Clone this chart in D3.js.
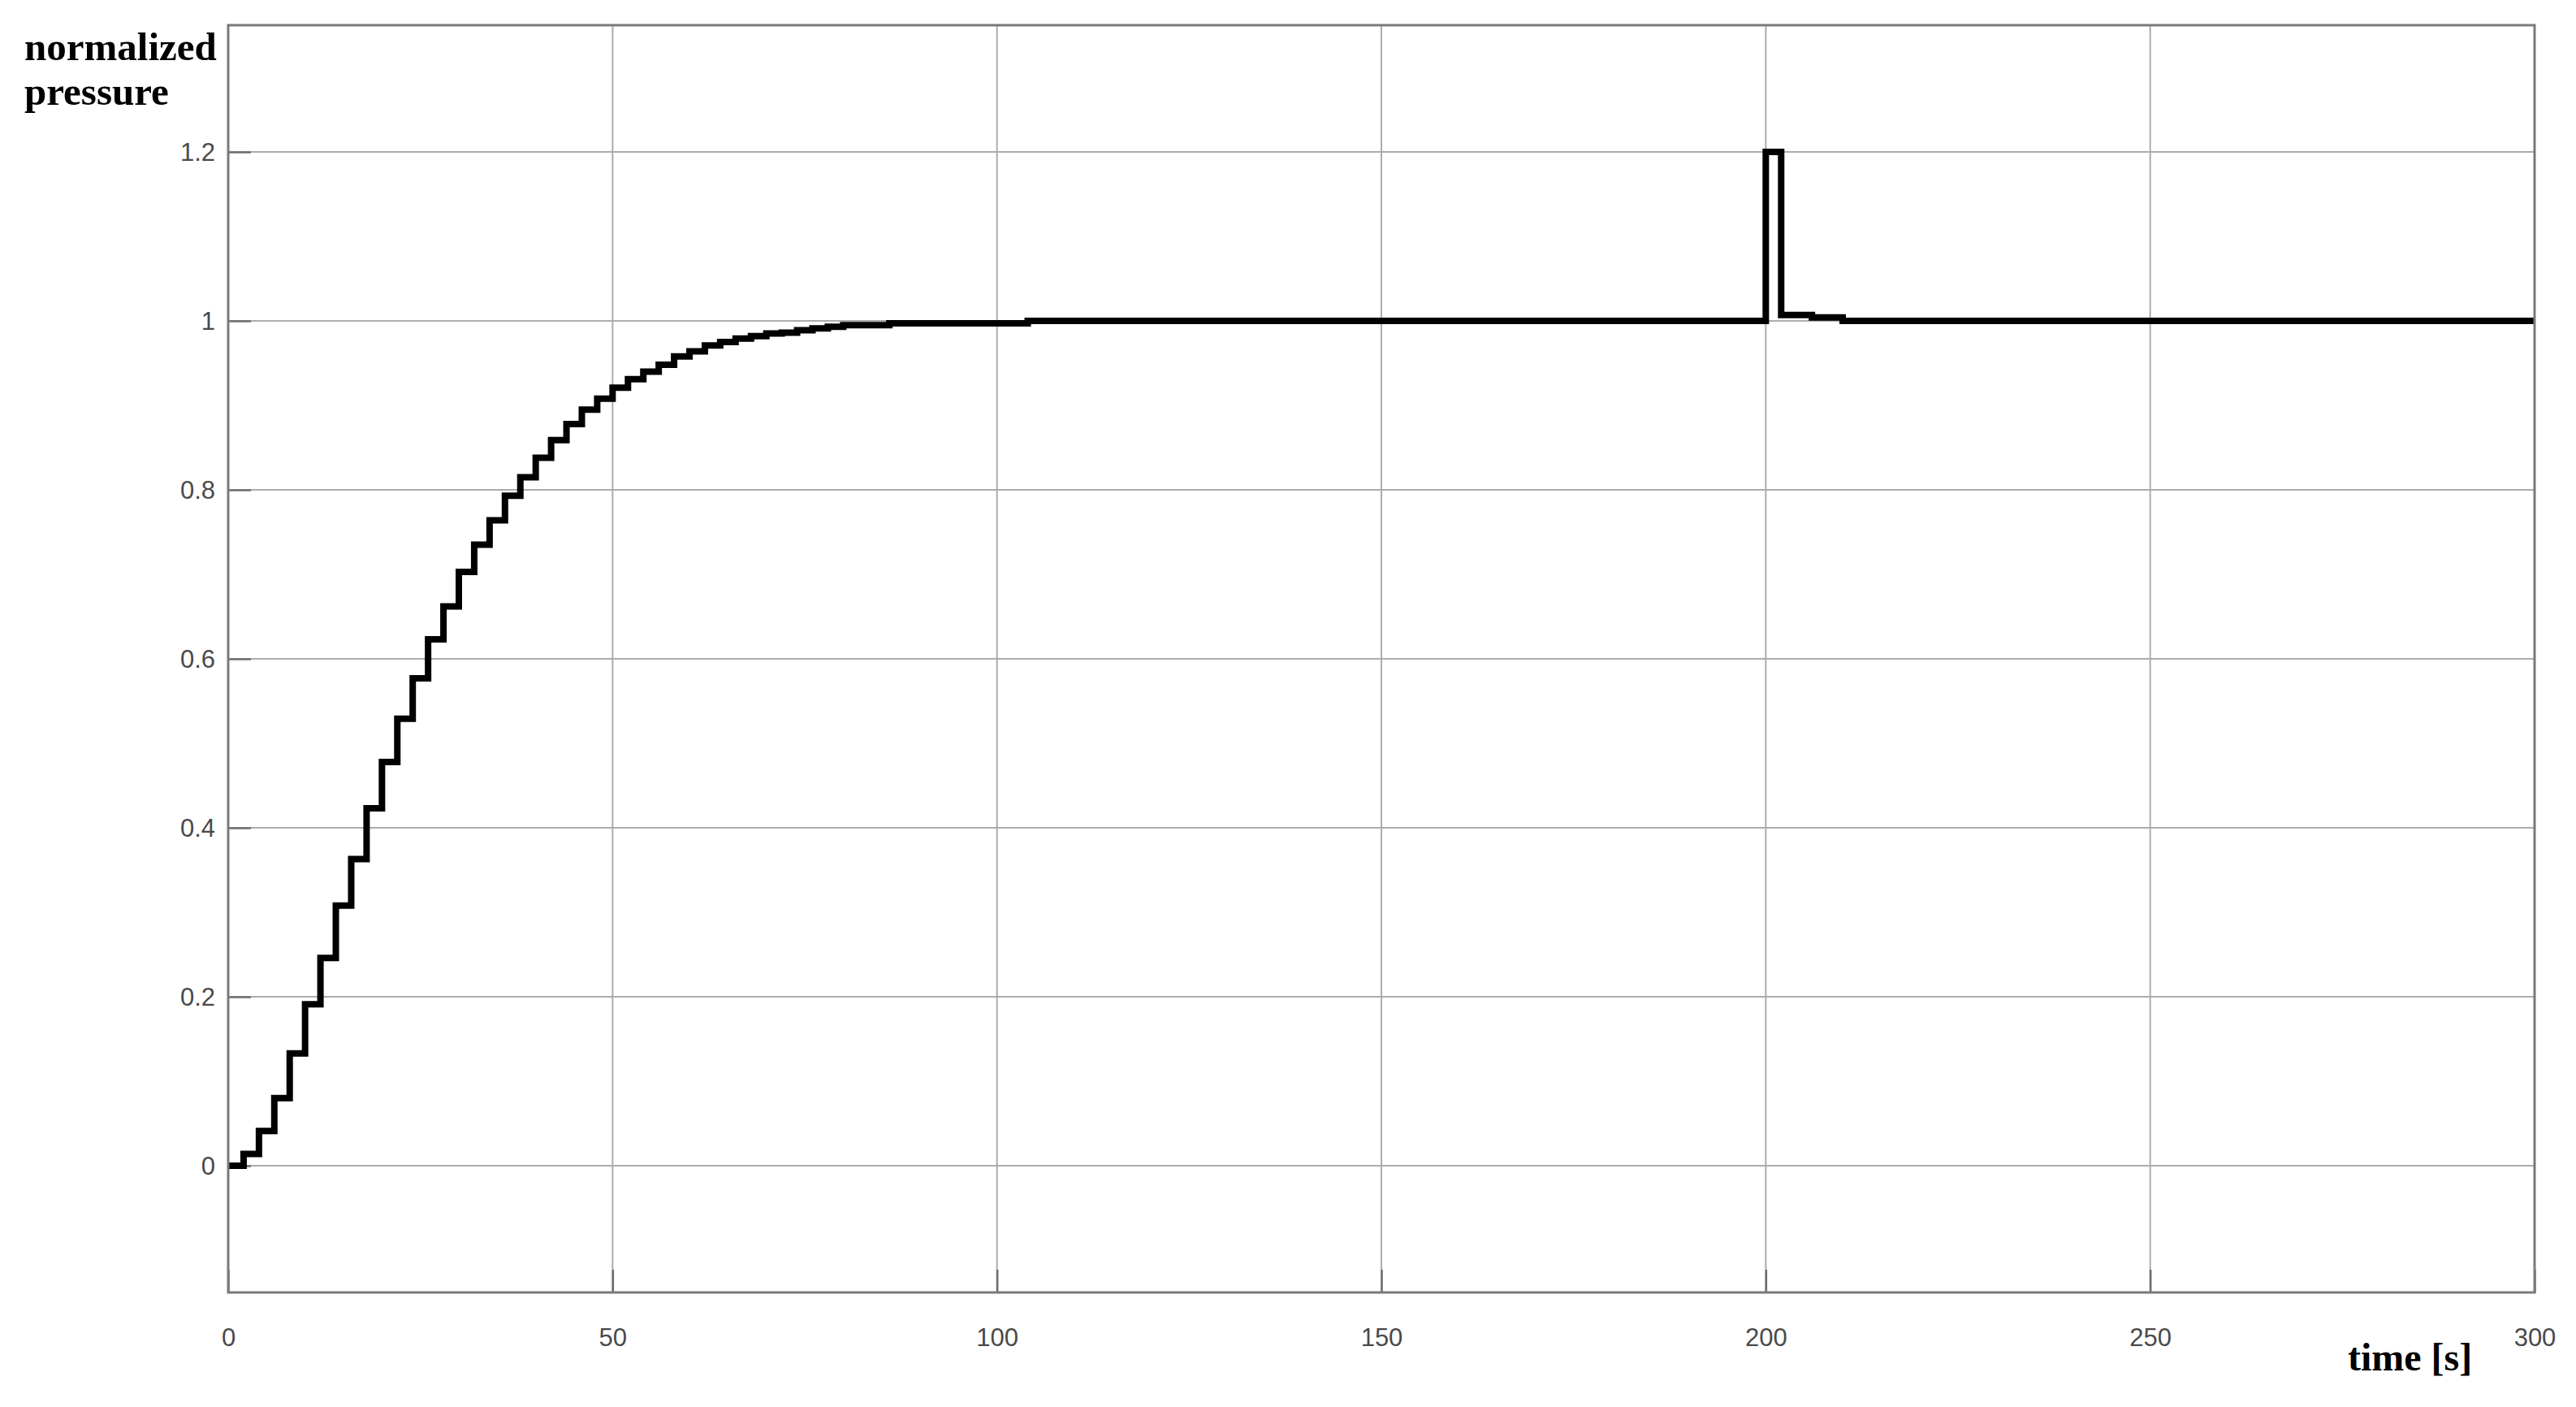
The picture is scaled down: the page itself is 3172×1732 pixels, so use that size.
<!DOCTYPE html>
<html>
<head>
<meta charset="utf-8">
<script src="https://cdn.jsdelivr.net/npm/d3@7"></script>
<style>
  html, body { margin: 0; padding: 0; background: #ffffff; }
  svg { display: block; }
</style>
</head>
<body>
<svg id="chart" width="3172" height="1732"></svg>
<script>
// ---- data ----
const stepTimes = [0, 2, 4, 6, 8, 10, 12, 14, 16, 18, 20, 22, 24, 26, 28, 30, 32, 34, 36, 38,
  40, 42, 44, 46, 48, 50, 52, 54, 56, 58, 60, 62, 64, 66, 68, 70, 72, 74, 76, 78,
  80, 86, 104, 200, 202, 206, 210, 300];
const stepValues = [0, 0.014, 0.041, 0.080, 0.133, 0.191, 0.246, 0.308, 0.363, 0.423,
  0.478, 0.529, 0.577, 0.623, 0.662, 0.703, 0.735, 0.764, 0.793, 0.815,
  0.838, 0.859, 0.878, 0.895, 0.908, 0.921, 0.931, 0.940, 0.948, 0.958,
  0.964, 0.971, 0.975, 0.979, 0.982, 0.985, 0.986, 0.989, 0.991, 0.993,
  0.995, 0.997, 1.0, 1.2, 1.007, 1.004, 1.0, 1.0];
const xTicks = [0, 50, 100, 150, 200, 250, 300];
const xTickLabels = ["0", "50", "100", "150", "200", "250", "300"];
const yTicks = [0, 0.2, 0.4, 0.6, 0.8, 1, 1.2];
const yTickLabels = ["0", "0.2", "0.4", "0.6", "0.8", "1", "1.2"];
const xDomain = [0, 300];
const yDomain = [-0.15, 1.35];
const yTitleLines = ["normalized", "pressure"];
const xTitle = "time [s]";

// ---- layout ----
const plot = { left: 281, top: 31, right: 3121, bottom: 1591 };
const svg = d3.select("#chart");

const x = d3.scaleLinear().domain(xDomain).range([plot.left, plot.right]);
const y = d3.scaleLinear().domain(yDomain).range([plot.bottom, plot.top]);

// grid lines
const grid = svg.append("g").attr("class", "grid");
grid.selectAll("line.vg").data(xTicks).join("line")
  .attr("x1", d => x(d)).attr("x2", d => x(d))
  .attr("y1", plot.top).attr("y2", plot.bottom)
  .attr("stroke", "#acacac").attr("stroke-width", 2);
grid.selectAll("line.hg").data(yTicks).join("line")
  .attr("x1", plot.left).attr("x2", plot.right)
  .attr("y1", d => y(d)).attr("y2", d => y(d))
  .attr("stroke", "#acacac").attr("stroke-width", 2);

// axes (inward ticks)
const tickLen = 28;
const xAxis = d3.axisBottom(x).tickValues(xTicks)
  .tickFormat((d, i) => xTickLabels[i]).tickSizeInner(-tickLen).tickSizeOuter(0).tickPadding(tickLen + 16);
const yAxis = d3.axisLeft(y).tickValues(yTicks)
  .tickFormat((d, i) => yTickLabels[i]).tickSizeInner(-tickLen).tickSizeOuter(0).tickPadding(16);

const gx = svg.append("g").attr("transform", `translate(0,${plot.bottom})`).call(xAxis);
const gy = svg.append("g").attr("transform", `translate(${plot.left},0)`).call(yAxis);
[gx, gy].forEach(g => {
  g.select(".domain").remove();
  g.selectAll(".tick line").attr("stroke", "#6e6e6e").attr("stroke-width", 2.5);
  g.selectAll(".tick text")
    .attr("fill", "#4a4a4a")
    .style("font-family", "'Liberation Sans', Arial, sans-serif")
    .style("font-size", "31px");
});
gy.selectAll(".tick text").attr("dy", "0.35em");

// data line
const data = stepTimes.map((t, i) => ({ t: t, v: stepValues[i] }));
const line = d3.line().x(d => x(d.t)).y(d => y(d.v)).curve(d3.curveStepAfter);
svg.append("path")
  .datum(data)
  .attr("d", line)
  .attr("fill", "none")
  .attr("stroke", "#000000")
  .attr("stroke-width", 8)
  .attr("stroke-linejoin", "miter")
  .attr("stroke-linecap", "butt");

// box
svg.append("rect")
  .attr("x", plot.left).attr("y", plot.top)
  .attr("width", plot.right - plot.left).attr("height", plot.bottom - plot.top)
  .attr("fill", "none").attr("stroke", "#7a7a7a").attr("stroke-width", 3);

// titles
const yt = svg.append("text")
  .attr("x", 30).attr("y", 74)
  .style("font-family", "'Liberation Serif', 'Times New Roman', serif")
  .style("font-weight", "bold").style("font-size", "49px")
  .attr("fill", "#000");
yt.selectAll("tspan").data(yTitleLines).join("tspan")
  .attr("x", 30).attr("y", (d, i) => 74 + i * 55)
  .text(d => d);

svg.append("text")
  .attr("x", 2891).attr("y", 1687)
  .style("font-family", "'Liberation Serif', 'Times New Roman', serif")
  .style("font-weight", "bold").style("font-size", "48px")
  .attr("fill", "#000")
  .text(xTitle);
</script>
</body>
</html>
